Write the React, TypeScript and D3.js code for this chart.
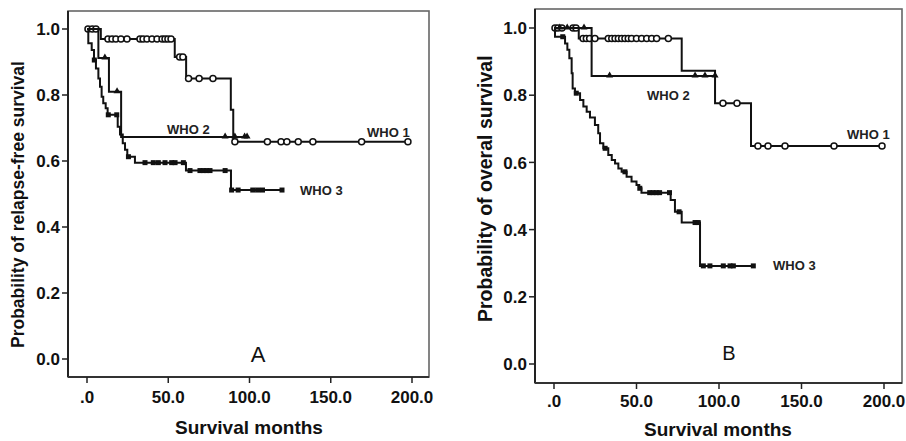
import React from "react";
import * as d3 from "d3";

type Step = [number, number];

// ---- shared axis data ----
const xTickValues = [0, 50, 100, 150, 200];
const xTickLabels = [".0", "50.0", "100.0", "150.0", "200.0"];
const yTickValues = [0, 0.2, 0.4, 0.6, 0.8, 1.0];
const yTickLabels = ["0.0", "0.2", "0.4", "0.6", "0.8", "1.0"];

// ---- Panel A: relapse-free survival ----
const rfsWho1Steps: Step[] = [[0, 1], [8.5, 0.97], [54, 0.915], [61, 0.85], [88.5, 0.755], [90, 0.658]];
const rfsWho1End = 197.5;
const rfsWho1Censor = [0.6, 3.2, 5.5, 12.9, 15.4, 17.8, 20.9, 24.6, 32.6, 34.5, 36.9, 40, 43.1, 46.2, 48, 49.8, 51.7, 57, 59, 62.5, 69, 77.5, 91, 111, 119.4, 123, 130, 139, 169, 197.5];

const rfsWho2Steps: Step[] = [[0, 1], [7, 0.912], [13.5, 0.81], [21, 0.673]];
const rfsWho2End = 98.5;
const rfsWho2Censor = [11, 18.5, 85, 91, 97, 98.5];

const rfsWho3Steps: Step[] = [[0, 1], [0.8, 0.957], [2.9, 0.936], [4.3, 0.906], [5.5, 0.88], [7, 0.85], [8, 0.825], [9, 0.795], [10, 0.775], [11.5, 0.76], [12.7, 0.74], [18.9, 0.704], [20.3, 0.68], [22, 0.654], [23.4, 0.634], [24.8, 0.613], [29.5, 0.595], [60.9, 0.571], [88.6, 0.512]];
const rfsWho3End = 120;
const rfsWho3Censor = [4.5, 13.1, 18.3, 25.5, 35.7, 40.8, 43.9, 48, 52.1, 54.2, 59.3, 63.4, 69.5, 71.6, 73.6, 75.7, 85, 89, 93, 102, 105, 108, 120];

// ---- Panel B: overall survival ----
const osWho1Steps: Step[] = [[0, 1], [15, 0.969], [77.4, 0.873], [97.6, 0.776], [119.4, 0.649]];
const osWho1End = 198.8;
const osWho1Censor = [0.6, 2.4, 4.8, 11.5, 13.3, 17.6, 19.6, 21.6, 24.8, 32.9, 35, 37, 39, 41, 43, 45, 47, 50, 53.1, 56.2, 59.2, 62.2, 69.3, 102.4, 110.9, 123.6, 129.7, 140, 169.7, 198.8];

const osWho2Steps: Step[] = [[0, 1], [22.8, 0.857]];
const osWho2End = 97.6;
const osWho2Censor = [3.5, 8, 18.2, 33.7, 85.5, 91.5, 97.6];

const osWho3Steps: Step[] = [[0, 1], [0.6, 0.974], [6.7, 0.954], [8.1, 0.935], [9.3, 0.91], [10.7, 0.865], [11.3, 0.82], [12.7, 0.806], [15.8, 0.786], [17.8, 0.766], [19.8, 0.751], [21.8, 0.734], [24.8, 0.711], [26.8, 0.687], [27.9, 0.657], [29.9, 0.642], [32.9, 0.622], [35, 0.607], [37, 0.597], [39, 0.582], [41, 0.572], [44, 0.557], [47, 0.543], [50, 0.533], [51.7, 0.523], [53, 0.51], [70.7, 0.488], [73.3, 0.453], [77.4, 0.421], [88.5, 0.292]];
const osWho3End = 120.8;
const osWho3Censor = [5.3, 13.5, 31, 43, 52, 58, 60, 62, 64, 70, 75.8, 85.5, 87.4, 90.5, 94.5, 102.6, 106.7, 108.7, 120.8];

type Marker = "circle" | "triangle" | "square";
interface Series { steps: Step[]; end: number; censor: number[]; marker: Marker; label: string; lx: number; ly: number; }
interface PanelCfg {
  frame: { left: number; right: number; top: number; bottom: number };
  xr: [number, number]; yr: [number, number];
  yTitle: string; yTitleX: number; yTitleY: number; yTitleSize: number;
  xTitleX: number; xTitleY: number; tickLabelY: number;
  letter: string; letterX: number; letterY: number; letterSize: number;
  series: Series[];
}

const survivalAt = (steps: Step[], t: number) => {
  let p = steps[0][1];
  for (const [s, v] of steps) if (s <= t) p = v;
  return p;
};

const FONT = "'Liberation Sans', Arial, sans-serif";

function Panel({ cfg }: { cfg: PanelCfg }) {
  const x = d3.scaleLinear().domain([0, 200]).range(cfg.xr);
  const y = d3.scaleLinear().domain([0, 1]).range(cfg.yr);
  const line = d3.line<Step>().x(d => x(d[0])).y(d => y(d[1])).curve(d3.curveStepAfter);
  const f = cfg.frame;
  return (
    <g>
      <rect x={f.left} y={f.top} width={f.right - f.left} height={f.bottom - f.top} fill="none" stroke="#666" strokeWidth={1.6} />
      <line x1={f.left} x2={f.left} y1={f.top} y2={f.bottom} stroke="#222" strokeWidth={2} />
      <line x1={f.left} x2={f.right} y1={f.bottom} y2={f.bottom} stroke="#333" strokeWidth={2} />
      {yTickValues.map((v, i) => (
        <g key={"y" + i}>
          <line x1={f.left - 6} x2={f.left} y1={y(v)} y2={y(v)} stroke="#222" strokeWidth={1.5} />
          <text x={f.left - 8} y={y(v)} dy="0.36em" textAnchor="end" fontFamily={FONT} fontWeight="bold" fontSize={17} fill="#111">{yTickLabels[i]}</text>
        </g>
      ))}
      {xTickValues.map((v, i) => (
        <g key={"x" + i}>
          <line x1={x(v)} x2={x(v)} y1={f.bottom} y2={f.bottom + 6} stroke="#222" strokeWidth={1.5} />
          <text x={x(v)} y={cfg.tickLabelY} textAnchor="middle" fontFamily={FONT} fontWeight="bold" fontSize={17} fill="#111">{xTickLabels[i]}</text>
        </g>
      ))}
      <text x={cfg.xTitleX} y={cfg.xTitleY} textAnchor="middle" fontFamily={FONT} fontWeight="bold" fontSize={19} fill="#111">Survival months</text>
      <text transform={`translate(${cfg.yTitleX},${cfg.yTitleY}) rotate(-90)`} textAnchor="start" fontFamily={FONT} fontWeight="bold" fontSize={cfg.yTitleSize} fill="#111">{cfg.yTitle}</text>
      <text x={cfg.letterX} y={cfg.letterY} textAnchor="middle" fontFamily={FONT} fontSize={cfg.letterSize} fill="#111">{cfg.letter}</text>
      {cfg.series.map((s, si) => {
        const pts: Step[] = [...s.steps, [s.end, s.steps[s.steps.length - 1][1]]];
        return (
          <g key={"s" + si}>
            <path d={line(pts) || ""} fill="none" stroke="#111" strokeWidth={2} />
            {s.censor.map((t, ci) => {
              const cx = x(t), cy = y(survivalAt(s.steps, t));
              if (s.marker === "circle") return <circle key={ci} cx={cx} cy={cy} r={3} fill="#fff" stroke="#111" strokeWidth={1.5} />;
              if (s.marker === "triangle") return <path key={ci} d={`M${cx - 3.5},${cy + 1.5}L${cx + 3.5},${cy + 1.5}L${cx},${cy - 4.5}Z`} fill="#111" />;
              return <rect key={ci} x={cx - 2.5} y={cy - 2.5} width={5} height={5} fill="#111" />;
            })}
            <text x={s.lx} y={s.ly} fontFamily={FONT} fontWeight="bold" fontSize={13} fill="#222">{s.label}</text>
          </g>
        );
      })}
    </g>
  );
}

const panelA: PanelCfg = {
  frame: { left: 68, right: 429, top: 11, bottom: 377 },
  xr: [87, 412], yr: [359, 29],
  yTitle: "Probability of relapse-free survival", yTitleX: 24, yTitleY: 348, yTitleSize: 17.5,
  xTitleX: 249, xTitleY: 434, tickLabelY: 403,
  letter: "A", letterX: 258, letterY: 362, letterSize: 22,
  series: [
    { steps: rfsWho1Steps, end: rfsWho1End, censor: rfsWho1Censor, marker: "circle", label: "WHO 1", lx: 367, ly: 137 },
    { steps: rfsWho2Steps, end: rfsWho2End, censor: rfsWho2Censor, marker: "triangle", label: "WHO 2", lx: 167, ly: 134 },
    { steps: rfsWho3Steps, end: rfsWho3End, censor: rfsWho3Censor, marker: "square", label: "WHO 3", lx: 300, ly: 195 },
  ],
};

const panelB: PanelCfg = {
  frame: { left: 535, right: 902, top: 9, bottom: 383 },
  xr: [554, 884], yr: [364, 28],
  yTitle: "Probability of overal survival", yTitleX: 492, yTitleY: 322, yTitleSize: 19.5,
  xTitleX: 718, xTitleY: 436, tickLabelY: 407,
  letter: "B", letterX: 729, letterY: 360, letterSize: 20,
  series: [
    { steps: osWho1Steps, end: osWho1End, censor: osWho1Censor, marker: "circle", label: "WHO 1", lx: 847, ly: 139 },
    { steps: osWho2Steps, end: osWho2End, censor: osWho2Censor, marker: "triangle", label: "WHO 2", lx: 647, ly: 100 },
    { steps: osWho3Steps, end: osWho3End, censor: osWho3Censor, marker: "square", label: "WHO 3", lx: 773, ly: 270 },
  ],
};

export default function App() {
  return (
    <svg width={906} height={441} style={{ position: "absolute", left: 0, top: 0, background: "#fff" }}>
      <rect width={906} height={441} fill="#fff" />
      <Panel cfg={panelA} />
      <Panel cfg={panelB} />
    </svg>
  );
}
